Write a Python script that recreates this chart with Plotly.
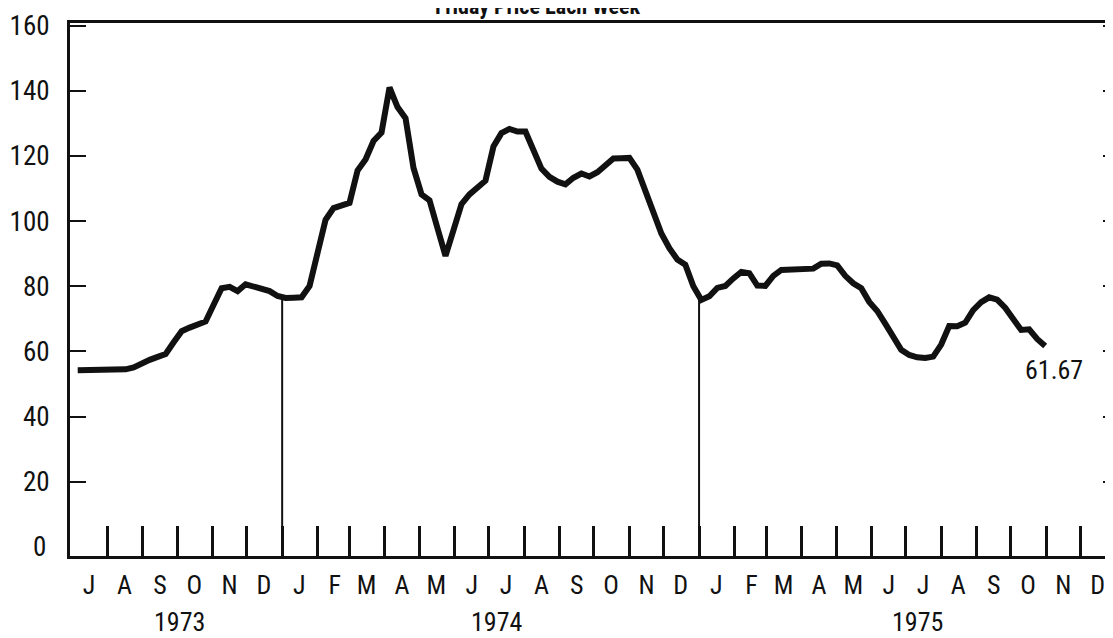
import numpy as np
import pandas as pd
import plotly.graph_objects as go

# weekly Friday prices, first Friday of July 1973 to end of Oct 1975
first_friday = "1973-07-06"
prices = [
    54.2, 54.2, 54.3, 54.4, 54.4, 54.5, 54.5, 55.1, 56.5, 57.4,
    58.3, 59.2, 62.8, 66.2, 67.3, 68.3, 69.2, 74.3, 79.4, 79.8,
    78.5, 80.6, 79.9, 79.2, 78.5, 77.0, 76.4, 76.5, 76.6, 80.1,
    89.6, 100.4, 104.0, 104.7, 105.6, 115.5, 118.9, 124.6, 127.2, 141.0,
    135.0, 131.6, 116.3, 108.2, 106.4, 97.8, 89.3, 97.2, 105.2, 108.2,
    110.3, 112.4, 122.9, 127.0, 128.3, 127.5, 127.5, 121.4, 116.1, 113.6,
    112.1, 111.3, 113.3, 114.6, 113.7, 115.0, 117.1, 119.2, 119.3, 119.4,
    115.8, 109.3, 102.9, 96.2, 91.7, 88.2, 86.6, 80.0, 75.8, 76.9,
    79.5, 80.1, 82.4, 84.4, 84.0, 80.2, 80.1, 83.2, 85.0, 85.0,
    85.0, 85.0, 85.4, 86.9, 87.0, 86.4, 83.2, 80.9, 79.4, 75.2,
    72.4, 68.5, 64.4, 60.5, 58.9, 58.2, 58.0, 58.4, 62.1, 67.8,
    67.7, 68.8, 72.7, 75.1, 76.6, 75.9, 73.4, 69.6, 66.6, 66.8,
    63.8, 61.67,
]
last_label = "61.67"

month_letters = ["J", "A", "S", "O", "N", "D"] + \
    ["J", "F", "M", "A", "M", "J", "J", "A", "S", "O", "N", "D"] * 2
years = ["1973", "1974", "1975"]
year_label_dates = ["1973-10-03", "1974-07-08", "1975-07-11"]
year_breaks = ["1974-01-01", "1975-01-01"]
y_ticks = [20, 40, 60, 80, 100, 120, 140, 160]

weeks = pd.date_range(first_friday, periods=len(prices), freq="7D")
month_starts = pd.date_range("1973-07-01", periods=len(month_letters), freq="MS")
mid_months = month_starts + pd.Timedelta(days=15)

y_lo, y_hi = -2.8, 160.8
font = "Liberation Sans Narrow, Roboto Condensed, Roboto, sans-serif"

# height of the year separators = price where the line crosses the new year
wk_num = weeks.values.astype("datetime64[s]").astype(float)
brk = pd.to_datetime(year_breaks)
brk_num = brk.values.astype("datetime64[s]").astype(float)
brk_h = np.interp(brk_num, wk_num, prices)
sep_x, sep_y = [], []
for d, h in zip(brk, brk_h):
    sep_x += [d, d, None]
    sep_y += [y_lo, h, None]

fig = go.Figure()
fig.add_trace(go.Scatter(x=sep_x, y=sep_y, mode="lines", yaxis="y2",
                         line=dict(color="#111", width=2), hoverinfo="skip"))
fig.add_trace(go.Scatter(x=weeks, y=prices, mode="lines",
                         line=dict(color="#111", width=6), hoverinfo="skip"))

fig.add_annotation(x=weeks[-1], y=prices[-1], text=last_label, showarrow=False,
                   xshift=9, yshift=-24, font=dict(size=26, color="#111"))
fig.add_annotation(x=0, xref="paper", y=0, text="0", showarrow=False,
                   xanchor="right", xshift=-22, font=dict(size=27, color="#111"))
for yr, d in zip(years, year_label_dates):
    fig.add_annotation(x=d, y=0, yref="paper", text=yr, showarrow=False,
                       yanchor="middle", yshift=-66, font=dict(size=26, color="#111"))
# title sits mostly above the top edge, as in the cropped original
fig.add_annotation(x=0.448, xref="paper", y=1, yref="paper",
                   text="<b>Friday Price Each Week</b>", showarrow=False,
                   yanchor="middle", yshift=17, font=dict(size=22, color="#111"))

# page body keeps an 8px margin, so the figure is a bit smaller than the window
fig.update_layout(
    width=1105, height=630,
    margin=dict(l=62, r=0, t=15, b=82),
    paper_bgcolor="white", plot_bgcolor="white",
    showlegend=False,
    font=dict(family=font, color="#111"),
    xaxis=dict(
        range=["1973-06-29 06:00", "1975-12-29 10:00"],
        tickmode="array", tickvals=list(mid_months), ticktext=month_letters,
        ticks="", ticklabelstandoff=4, tickfont=dict(size=26),
        showline=True, linewidth=3, linecolor="#111", mirror=True,
        showgrid=False, zeroline=False, automargin=False,
        minor=dict(tickmode="array", tickvals=list(month_starts[1:]),
                   ticks="inside", ticklen=30, tickwidth=2.5, tickcolor="#111",
                   showgrid=False),
    ),
    yaxis=dict(
        range=[y_lo, y_hi], tickmode="array", tickvals=y_ticks,
        ticks="inside", ticklen=16, tickwidth=2, tickcolor="#111",
        ticklabelstandoff=12, tickfont=dict(size=27),
        showline=True, linewidth=3, linecolor="#111",
        showgrid=False, zeroline=False, automargin=False,
    ),
    yaxis2=dict(
        range=[y_lo, y_hi], overlaying="y", side="right",
        tickmode="array", tickvals=y_ticks, showticklabels=False,
        ticks="inside", ticklen=10, tickwidth=2, tickcolor="#111",
        showline=False, showgrid=False, zeroline=False, automargin=False,
    ),
)

fig.write_html("out.html")
